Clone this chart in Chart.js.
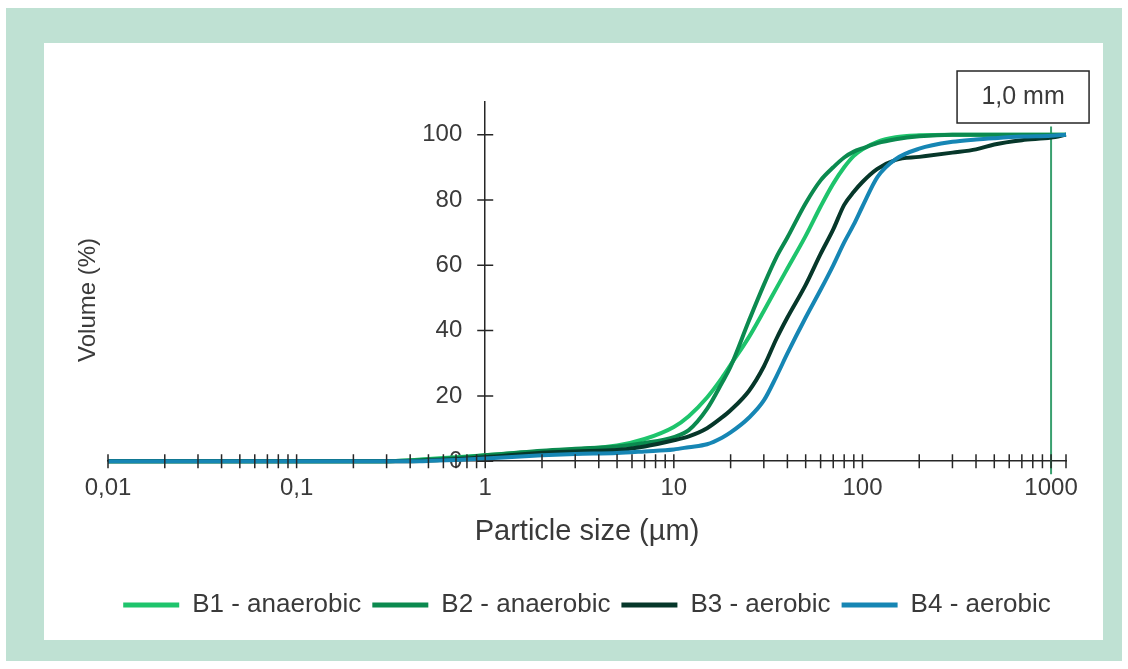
<!DOCTYPE html>
<html>
<head>
<meta charset="utf-8">
<title>Particle size distribution</title>
<script src="https://cdn.jsdelivr.net/npm/chart.js@4.4.1/dist/chart.umd.min.js"></script>
<style>
  html, body { margin: 0; padding: 0; background: #fff; }
  #frame { position: absolute; left: 6px; top: 8px; width: 1116px; height: 653px; background: #bfe1d3; }
  #panel { position: absolute; left: 38px; top: 35px; width: 1059px; height: 597px; background: #fff; }
</style>
</head>
<body>
<div id="frame"><div id="panel"><canvas id="psd" width="1059" height="597"></canvas></div></div>
<script>
// cumulative volume (%) against particle size (µm)
var sizes = [0.01, 0.1, 0.3, 0.4, 0.5, 0.7, 1, 2, 3, 5, 7, 10, 12, 15, 18, 20, 25, 30, 35, 40, 50, 60, 70, 80, 90, 100, 120, 150, 200, 300, 400, 500, 700, 1000, 1200];
var b1 = [0, 0, 0, 0.3, 0.7, 1.2, 1.8, 3, 3.6, 4.8, 6.8, 10.5, 13.8, 19.5, 25.5, 29.5, 38, 46, 53, 59, 69, 78, 85, 90, 93.5, 95.5, 97.8, 99.2, 99.8, 100, 100, 100, 100, 100, 100];
var b2 = [0, 0, 0, 0.2, 0.5, 1, 1.8, 3.2, 3.8, 4.5, 5.6, 7.4, 9.5, 16, 24, 29, 43, 54, 62.5, 68.5, 79, 86, 90, 93, 94.8, 95.8, 97.4, 98.6, 99.5, 100, 100, 100, 100, 100, 100];
var b3 = [0, 0, 0, 0, 0.2, 0.6, 1.2, 2.6, 3, 3.4, 4.5, 6.4, 7.6, 10.1, 13.4, 15.6, 21.5, 29, 37.5, 44, 54, 63.5, 71, 78.5, 82.5, 85.5, 89.5, 92.3, 93.2, 94.5, 95.5, 97, 98.3, 99.1, 100];
var b4 = [0, 0, 0, 0, 0.1, 0.4, 0.8, 1.8, 2.2, 2.5, 3, 3.6, 4.3, 5.2, 7.2, 8.8, 13.3, 18.6, 26, 33, 44, 52.5, 60, 67, 72.5, 78, 87, 92.5, 95.7, 97.8, 98.5, 98.9, 99.4, 99.7, 100];

var seriesNames = ['B1 - anaerobic', 'B2 - anaerobic', 'B3 - aerobic', 'B4 - aerobic'];
var seriesColors = ['#1ec46c', '#0b8a4f', '#06372a', '#1686b4'];

var xMajorTicks = [0.01, 0.1, 1, 10, 100, 1000];
var xTickLabels = ['0,01', '0,1', '1', '10', '100', '1000'];
var xMinorSteps = [2, 3, 4, 5, 6, 7, 8, 9];
var xMax = 1200;
var yTicks = [0, 20, 40, 60, 80, 100];
var yMax = 110;

var sieveSize = 1000;
var sieveLabel = '1,0 mm';

var fontFamily = "'Liberation Sans', Arial, sans-serif";
var textColor = '#3a3a3a';
var axisColor = '#262626';

// every tick position on the log axis: decades plus 2..9 in between
var xTickValues = [];
xMajorTicks.forEach(function (m, i) {
  xTickValues.push(m);
  if (i < xMajorTicks.length - 1) {
    xMinorSteps.forEach(function (s) { xTickValues.push(m * s); });
  }
});
xTickValues.push(xMax);

function points(values) {
  return values.map(function (v, i) { return {x: sizes[i], y: v}; });
}

var marks = {
  id: 'marks',
  beforeDatasetsDraw: function (chart) {
    var ctx = chart.ctx, xs = chart.scales.x, ys = chart.scales.y;
    var px = xs.getPixelForValue(sieveSize);
    var axisX = xs.getPixelForValue(1);
    ctx.save();

    // y tick labels sit left of the axis, which crosses at x = 1
    ctx.fillStyle = textColor;
    ctx.font = '24px ' + fontFamily;
    ctx.textAlign = 'right';
    ctx.textBaseline = 'middle';
    ys.ticks.forEach(function (t) {
      ctx.fillText(String(t.value), axisX - 23, ys.getPixelForValue(t.value));
    });

    ctx.strokeStyle = '#3aa06f';
    ctx.lineWidth = 2;
    ctx.beginPath();
    ctx.moveTo(px, ys.getPixelForValue(102.5));
    ctx.lineTo(px, ys.getPixelForValue(0) + 13);
    ctx.stroke();

    // label box above the sieve line
    var top = chart.chartArea.top - 31;
    ctx.strokeStyle = axisColor;
    ctx.lineWidth = 1.5;
    ctx.strokeRect(px - 94, top, 132, 52);
    ctx.font = '25px ' + fontFamily;
    ctx.textAlign = 'center';
    ctx.fillText(sieveLabel, px - 28, top + 26);
    ctx.restore();
  },
  afterDatasetsDraw: function (chart) {
    var ctx = chart.ctx, xs = chart.scales.x, ys = chart.scales.y;
    var axisY = ys.getPixelForValue(0), axisX = xs.getPixelForValue(1);
    ctx.save();
    ctx.strokeStyle = axisColor;
    ctx.lineWidth = 1.5;
    ctx.beginPath();
    xs.ticks.forEach(function (t) {
      var p = xs.getPixelForValue(t.value);
      ctx.moveTo(p, axisY - 7);
      ctx.lineTo(p, axisY + 7);
    });
    ys.ticks.forEach(function (t) {
      var p = ys.getPixelForValue(t.value);
      ctx.moveTo(axisX - 8, p);
      ctx.lineTo(axisX + 8, p);
    });
    ctx.stroke();

    // vertical axis title
    ctx.translate(chart.chartArea.left - 20, (ys.getPixelForValue(0) + ys.getPixelForValue(100)) / 2 + 2);
    ctx.rotate(-Math.PI / 2);
    ctx.fillStyle = textColor;
    ctx.font = '24px ' + fontFamily;
    ctx.textAlign = 'center';
    ctx.textBaseline = 'middle';
    ctx.fillText('Volume (%)', 0, 0);
    ctx.restore();
  }
};

new Chart(document.getElementById('psd'), {
  type: 'line',
  data: {
    datasets: [b1, b2, b3, b4].map(function (values, i) {
      return {
        label: seriesNames[i],
        data: points(values),
        borderColor: seriesColors[i],
        backgroundColor: seriesColors[i],
        borderWidth: 4,
        pointRadius: 0,
        cubicInterpolationMode: 'monotone',
        clip: 8,
        order: 3 - i
      };
    })
  },
  options: {
    responsive: false,
    animation: false,
    layout: { padding: { left: 64, right: 37, top: 59, bottom: 12 } },
    scales: {
      x: {
        type: 'logarithmic',
        position: { y: 0 },
        min: 0.01,
        max: xMax,
        afterBuildTicks: function (scale) {
          scale.ticks = xTickValues.map(function (v) { return {value: v}; });
        },
        grid: { drawOnChartArea: false, drawTicks: false },
        border: { color: axisColor, width: 1.5 },
        ticks: {
          autoSkip: false,
          maxRotation: 0,
          padding: 13,
          color: textColor,
          font: { size: 24, family: fontFamily },
          callback: function (value) {
            var i = xMajorTicks.indexOf(value);
            return i < 0 ? '' : xTickLabels[i];
          }
        }
      },
      y: {
        type: 'linear',
        position: { x: 1 },
        min: 0,
        max: yMax,
        afterBuildTicks: function (scale) {
          scale.ticks = yTicks.map(function (v) { return {value: v}; });
        },
        grid: { drawOnChartArea: false, drawTicks: false },
        border: { color: axisColor, width: 1.5 },
        ticks: { display: false }
      }
    },
    plugins: {
      title: {
        display: true,
        text: 'Particle size (µm)',
        position: 'bottom',
        fullSize: false,
        weight: 500,
        color: textColor,
        font: { size: 29, weight: 'normal', family: fontFamily },
        padding: { top: 53, bottom: 32 }
      },
      legend: {
        position: 'bottom',
        fullSize: false,
        labels: {
          boxWidth: 56,
          boxHeight: 5,
          padding: 11,
          color: textColor,
          font: { size: 26, family: fontFamily },
          sort: function (a, b) { return a.datasetIndex - b.datasetIndex; },
          generateLabels: function (chart) {
            return Chart.defaults.plugins.legend.labels.generateLabels(chart).map(function (item) {
              item.fillStyle = item.strokeStyle;
              item.lineWidth = 0;
              return item;
            });
          }
        }
      },
      tooltip: { enabled: false }
    }
  },
  plugins: [marks]
});
</script>
</body>
</html>
